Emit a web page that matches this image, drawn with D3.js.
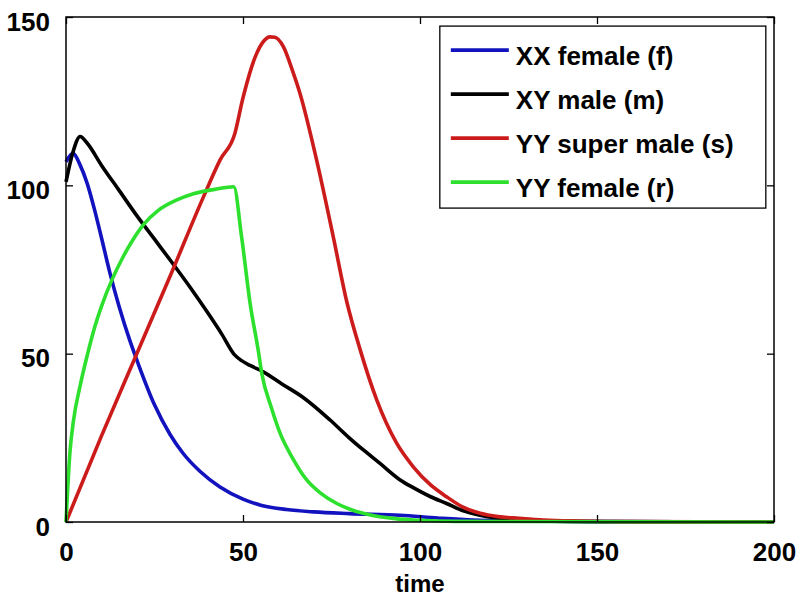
<!DOCTYPE html>
<html>
<head>
<meta charset="utf-8">
<script src="https://cdn.jsdelivr.net/npm/d3@7"></script>
<style>
  body { margin: 0; background: #fff; }
  text { font-family: "Liberation Sans", Arial, sans-serif; fill: #000; font-weight: bold; }
</style>
</head>
<body>
<div id="container"></div>
<script>
var margin = {top: 17, right: 28, bottom: 76, left: 66},
    W = 802, H = 598,
    w = W - margin.left - margin.right,
    h = H - margin.top - margin.bottom;

/* data: [time, population] */
var xxFemale = [[0,107],[2,109.5],[4,106],[6,100.5],[8,93],[10,84.5],[12.4,74],[15,64],[18,54],[20.4,47],[25,34.8],[29.4,26],[33,20.5],[37.9,15],[43.5,10.4],[50,6.8],[55,5],[62.3,3.7],[70,3],[80,2.5],[94.4,2],[105,1.2],[115,0.6],[130,0.3],[150,0.1],[200,0]];
var xyMale = [[0,101],[2,110],[4,114.5],[6,112.5],[10,106],[15,98.5],[20,91],[25,84],[30,77],[35,69.8],[40,62.2],[44,55.8],[47.5,49.8],[49.5,48],[52,46.5],[55.7,44.6],[61,41],[67,37],[74.6,30.3],[80,25],[84,21.4],[88.7,17.4],[94.4,12.5],[98.1,10.2],[103,7.5],[107.5,5.5],[112,3.4],[117,2],[125,0.8],[135,0.3],[150,0.1],[200,0]];
var yySuperMale = [[0,0],[10,25.5],[20,50],[30,74.5],[38.8,96.5],[43.5,107.5],[47.7,115.4],[50,126],[53.4,138],[56,143],[57.6,144.1],[59,144],[61.4,141.2],[64,134],[66.1,127.3],[70.8,107.5],[75.5,84.7],[79.3,65.5],[83,51.5],[87.8,36.2],[93.4,23.4],[98.1,16.4],[103,11],[107.5,7.5],[112,4.5],[117,2.6],[122,1.6],[128,1.1],[135,0.6],[145,0.3],[160,0.1],[200,0]];
var yyFemale = [[0,0],[1.1,20.5],[2.1,30],[4,40.5],[6,49.5],[8,57.5],[10,64],[13,72],[16,78.5],[19,84],[22,88.5],[26,92.5],[31,95.5],[36,97.5],[42,98.8],[47.4,99.6],[49.6,84.7],[52,65],[54.3,51],[55.3,44.2],[58,34],[60.5,26.3],[64,19],[68,12.5],[72,8.5],[76.5,5.5],[81,3.5],[86,2.1],[93,1],[100,0.5],[110,0.2],[200,0]];

var seriesNames = ['XX female (f)', 'XY male (m)', 'YY super male (s)', 'YY female (r)'];
var seriesColors = ['#1212bf', '#000000', '#cc1b1b', '#2ee02e'];
var seriesData = [xxFemale, xyMale, yySuperMale, yyFemale];

var xTicks = [0, 50, 100, 150, 200],
    yTicks = [0, 50, 100, 150];

/*create svg element*/
var svg = d3.select('#container').append('svg')
    .attr('width', W)
    .attr('height', H);

var chart = svg.append('g')
    .attr('transform', `translate(${margin.left}, ${margin.top})`);

/* scales */
var xScale = d3.scaleLinear().domain([0, 200]).range([0, w]);
var yScale = d3.scaleLinear().domain([0, 150]).range([h, 0]);

chart.append('clipPath').attr('id', 'plotClip')
  .append('rect').attr('x', -2).attr('y', -2).attr('width', w + 4).attr('height', h + 4);

/* lines */
var line = d3.line()
    .x(d => xScale(d[0]))
    .y(d => yScale(d[1]))
    .curve(d3.curveMonotoneX);

chart.append('g').attr('clip-path', 'url(#plotClip)')
  .selectAll('path').data(seriesData).enter().append('path')
    .attr('d', line)
    .attr('fill', 'none')
    .attr('stroke', (d, i) => seriesColors[i])
    .attr('stroke-width', 3.6)
    .attr('stroke-linejoin', 'round');

/* axes, MATLAB style box with inward ticks */
var tickLen = 7;
function styleAxis(g) {
    g.select('.domain').remove();
    g.selectAll('line').attr('stroke', '#000').attr('stroke-width', 1.3);
}
chart.append('g').attr('transform', `translate(0, ${h})`)
    .call(d3.axisBottom(xScale).tickValues(xTicks).tickSizeInner(-tickLen).tickPadding(21).tickFormat(d3.format('d')))
    .call(styleAxis)
    .selectAll('text').attr('font-size', 26).attr('dy', '0.71em').attr('fill', '#000');
chart.append('g')
    .call(d3.axisTop(xScale).tickValues(xTicks).tickSizeInner(-tickLen).tickFormat(''))
    .call(styleAxis);
chart.append('g')
    .call(d3.axisLeft(yScale).tickValues(yTicks).tickSizeInner(-tickLen).tickPadding(16).tickFormat(d3.format('d')))
    .call(styleAxis)
    .selectAll('text').attr('font-size', 26).attr('dy', 13).attr('fill', '#000');
chart.append('g').attr('transform', `translate(${w}, 0)`)
    .call(d3.axisRight(yScale).tickValues(yTicks).tickSizeInner(-tickLen).tickFormat(''))
    .call(styleAxis);

chart.append('rect')
    .attr('width', w).attr('height', h)
    .attr('fill', 'none').attr('stroke', '#000').attr('stroke-width', 1.5);

/* x label */
chart.append('text')
    .attr('x', xScale(100)).attr('y', h + 70)
    .attr('text-anchor', 'middle')
    .attr('font-size', 24)
    .text('time');

/* legend */
var legend = chart.append('g').attr('transform', `translate(${xScale(105.6)}, ${yScale(147.3)})`);
legend.append('rect')
    .attr('width', 326).attr('height', 182)
    .attr('fill', '#fff').attr('stroke', '#000').attr('stroke-width', 1.3);
var rows = legend.selectAll('.row').data(seriesNames).enter().append('g')
    .attr('transform', (d, i) => `translate(0, ${24 + i * 44})`);
rows.append('line')
    .attr('x1', 11).attr('x2', 69)
    .attr('stroke', (d, i) => seriesColors[i])
    .attr('stroke-width', 3.6);
rows.append('text')
    .attr('x', 76).attr('y', 15)
    .attr('font-size', 26)
    .text(d => d);
</script>
</body>
</html>
